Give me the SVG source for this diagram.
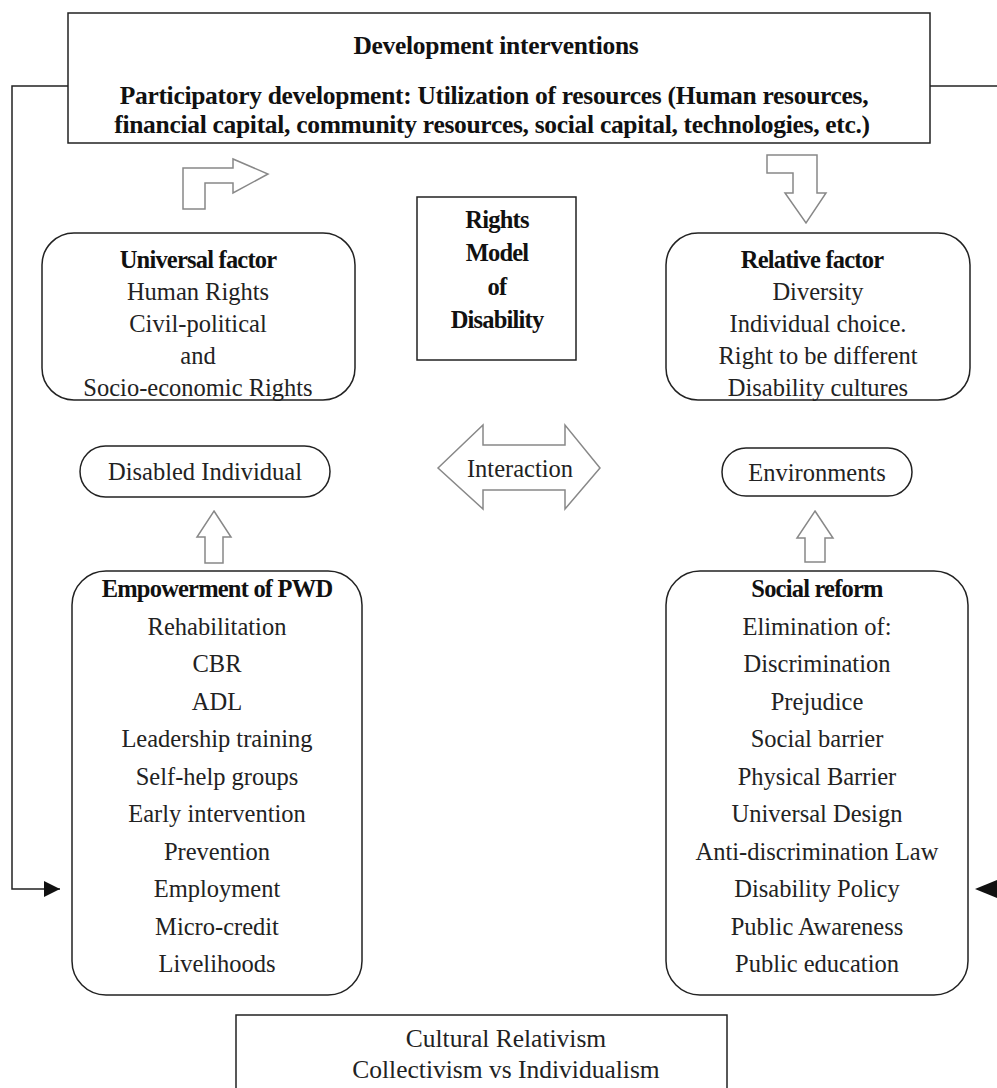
<svg xmlns="http://www.w3.org/2000/svg" width="997" height="1088" viewBox="0 0 997 1088">
<style>
.box{fill:#fff;stroke:#222;stroke-width:1.5}
.rbox{fill:#fff;stroke:#222;stroke-width:1.5}
.hollow{fill:#fff;stroke:#888;stroke-width:1.5;stroke-linejoin:miter}
.conn{fill:none;stroke:#222;stroke-width:1.5}
.t{font-family:"Liberation Serif","Times New Roman",serif;font-size:24.5px;fill:#222;text-anchor:middle}
.tl{font-family:"Liberation Serif","Times New Roman",serif;font-size:25.5px;fill:#222;text-anchor:middle}
.b{font-family:"Liberation Serif","Times New Roman",serif;font-size:24.5px;font-weight:bold;fill:#111;text-anchor:middle;letter-spacing:-0.8px}
.h{font-family:"Liberation Serif","Times New Roman",serif;font-size:25.5px;font-weight:bold;fill:#111;text-anchor:middle;letter-spacing:-0.3px}
</style>
<defs>
<marker id="tri" viewBox="0 0 10 10" refX="10" refY="5" markerWidth="16" markerHeight="18" markerUnits="userSpaceOnUse" orient="auto">
<path d="M0,0 L10,5 L0,10 Z" fill="#111"/>
</marker>
</defs>
<rect width="997" height="1088" fill="#fff"/>

<g id="connectors">
<polyline class="conn" points="68,86 12,86 12,889 60,889" marker-end="url(#tri)"/>
<polyline class="conn" points="930,86 1010,86"/>
<path d="M997,880 L975,889 L997,898 Z" fill="#111"/>
<polygon class="hollow" points="183,209 183,168 233,168 233,159 268,174 233,193 233,183 205,183 205,209"/>
<polygon class="hollow" points="767,155 817,155 817,193 826,193 806,223 785,193 793,193 793,173 767,173"/>
<polygon class="hollow" points="214,511 231,537 223,537 223,563 205,563 205,537 197,537"/>
<polygon class="hollow" points="815,511 833,538 825,538 825,562 805,562 805,538 797,538"/>
</g>

<g id="top-box">
<rect class="box" x="68" y="13" width="862" height="130"/>
<text class="h" x="496" y="54">Development interventions</text>
<text class="h" x="494" y="104">Participatory development: Utilization of resources (Human resources,</text>
<text class="h" x="492" y="133">financial capital, community resources, social capital, technologies, etc.)</text>
</g>

<g id="rights-model">
<rect class="box" x="417" y="197" width="159" height="163"/>
<text class="b" x="497" y="228">Rights</text>
<text class="b" x="497" y="261">Model</text>
<text class="b" x="497" y="295">of</text>
<text class="b" x="497" y="328">Disability</text>
</g>

<g id="universal-factor">
<rect class="rbox" x="42" y="233" width="313" height="167" rx="32"/>
<text class="b" x="198" y="268">Universal factor</text>
<text class="t" x="198" y="300">Human Rights</text>
<text class="t" x="198" y="332">Civil-political</text>
<text class="t" x="198" y="364">and</text>
<text class="t" x="198" y="396">Socio-economic Rights</text>
</g>

<g id="relative-factor">
<rect class="rbox" x="666" y="233" width="304" height="167" rx="32"/>
<text class="b" x="812" y="268">Relative factor</text>
<text class="t" x="818" y="300">Diversity</text>
<text class="t" x="818" y="332">Individual choice.</text>
<text class="t" x="818" y="364">Right to be different</text>
<text class="t" x="818" y="396">Disability cultures</text>
</g>

<g id="disabled-individual">
<rect class="rbox" x="80" y="446" width="250" height="51" rx="25.5"/>
<text class="t" x="205" y="480">Disabled Individual</text>
</g>

<g id="environments">
<rect class="rbox" x="722" y="448" width="190" height="48" rx="24"/>
<text class="t" x="817" y="481">Environments</text>
</g>

<g id="interaction">
<polygon class="hollow" points="438,468 483,425 483,445 565,445 565,425 600,468 565,509 565,490 483,490 483,509"/>
<text class="t" x="520" y="477">Interaction</text>
</g>

<g id="empowerment">
<rect class="rbox" x="72" y="571" width="290" height="424" rx="34"/>
<text class="b" x="217" y="597">Empowerment of PWD</text>
<text class="t" x="217" y="634.5">Rehabilitation</text>
<text class="t" x="217" y="672">CBR</text>
<text class="t" x="217" y="709.5">ADL</text>
<text class="t" x="217" y="747">Leadership training</text>
<text class="t" x="217" y="784.5">Self-help groups</text>
<text class="t" x="217" y="822">Early intervention</text>
<text class="t" x="217" y="859.5">Prevention</text>
<text class="t" x="217" y="897">Employment</text>
<text class="t" x="217" y="934.5">Micro-credit</text>
<text class="t" x="217" y="972">Livelihoods</text>
</g>

<g id="social-reform">
<rect class="rbox" x="666" y="571" width="302" height="424" rx="34"/>
<text class="b" x="817" y="597">Social reform</text>
<text class="t" x="817" y="634.5">Elimination of:</text>
<text class="t" x="817" y="672">Discrimination</text>
<text class="t" x="817" y="709.5">Prejudice</text>
<text class="t" x="817" y="747">Social barrier</text>
<text class="t" x="817" y="784.5">Physical Barrier</text>
<text class="t" x="817" y="822">Universal Design</text>
<text class="t" x="817" y="859.5">Anti-discrimination Law</text>
<text class="t" x="817" y="897">Disability Policy</text>
<text class="t" x="817" y="934.5">Public Awareness</text>
<text class="t" x="817" y="972">Public education</text>
</g>

<g id="cultural-relativism">
<rect class="box" x="236" y="1015" width="491" height="100"/>
<text class="tl" x="506" y="1047">Cultural Relativism</text>
<text class="tl" x="506" y="1078">Collectivism vs Individualism</text>
</g>
</svg>
